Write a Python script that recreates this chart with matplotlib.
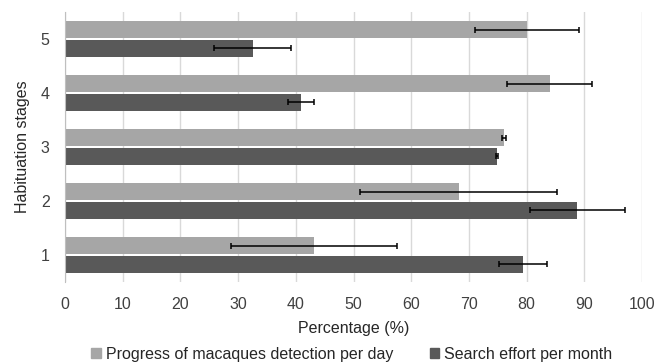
import numpy as np
import matplotlib.pyplot as plt
from matplotlib.patches import Patch

plt.rcParams['font.family'] = ['Liberation Sans', 'DejaVu Sans']

STAGES = [1, 2, 3, 4, 5]
DETECTION = [43.2, 68.2, 76.1, 84.0, 80.0]
DETECTION_ERR = [14.4, 17.1, 0.3, 7.4, 9.0]
EFFORT = [79.4, 88.8, 74.9, 40.9, 32.5]
EFFORT_ERR = [4.1, 8.2, 0.2, 2.3, 6.7]

LIGHT = '#a6a6a6'
DARK = '#595959'


def main():
	fig = plt.figure(figsize=(6.65, 3.63), dpi=100)
	ax = fig.add_axes([65 / 665, 1 - 282 / 363, 577 / 665, 270 / 363])

	y = np.array(STAGES, dtype=float)
	h = 0.31
	off = 0.175
	err_kw = dict(ecolor='black', elinewidth=1.1, capsize=2.5, capthick=1.1)
	ax.barh(y + off, DETECTION, height=h, color=LIGHT, xerr=DETECTION_ERR,
			error_kw=err_kw, zorder=2)
	ax.barh(y - off, EFFORT, height=h, color=DARK, xerr=EFFORT_ERR,
			error_kw=err_kw, zorder=2)

	ax.set_xlim(0, 100)
	ax.set_ylim(0.5, 5.5)
	ax.set_xticks(range(0, 101, 10))
	ax.set_yticks(STAGES)
	ax.grid(axis='x', color='#d9d9d9', linewidth=1, zorder=0)
	for s in ['top', 'right', 'bottom']:
		ax.spines[s].set_visible(False)
	ax.spines['left'].set_color('#bfbfbf')
	ax.tick_params(axis='both', length=0, labelsize=11.5, colors='#404040')
	ax.tick_params(axis='x', pad=11)
	ax.tick_params(axis='y', pad=11)

	ax.set_xlabel('Percentage (%)', fontsize=11.5, color='#262626', labelpad=6)
	ax.set_ylabel('Habituation stages', fontsize=11.5, color='#262626')
	ax.yaxis.set_label_coords(-0.06, 0.5)

	handles = [Patch(color=LIGHT), Patch(color=DARK)]
	labels = ['Progress of macaques detection per day', 'Search effort per month']
	fig.legend(handles, labels, loc='center', ncol=2, frameon=False,
			   bbox_to_anchor=(0.529, 0.024), fontsize=11.5, handlelength=0.6,
			   handleheight=0.6, handletextpad=0.3, columnspacing=2.3,
			   labelcolor='#262626', borderpad=0)

	fig.savefig('out.png', dpi=100)


if __name__ == "__main__":
	main()
